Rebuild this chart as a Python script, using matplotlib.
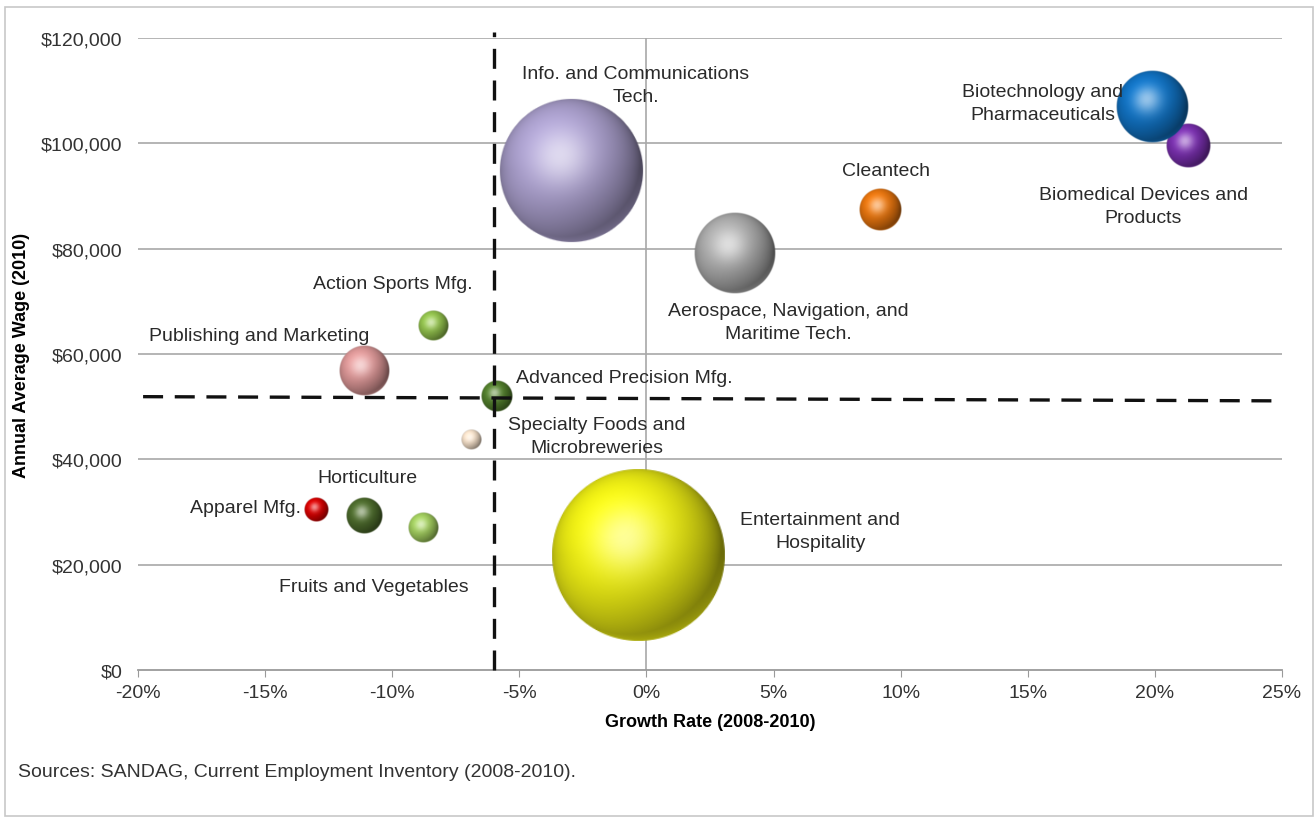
import numpy as np
import matplotlib.pyplot as plt
from matplotlib.patches import Rectangle

plt.rcParams['font.family'] = ['Liberation Sans', 'DejaVu Sans']

# ---- data ----
clusters = ["Info. and Communications\nTech.", "Entertainment and\nHospitality",
            "Aerospace, Navigation, and\nMaritime Tech.", "Cleantech",
            "Biomedical Devices and\nProducts", "Biotechnology and\nPharmaceuticals",
            "Action Sports Mfg.", "Publishing and Marketing", "Advanced Precision Mfg.",
            "Specialty Foods and\nMicrobreweries", "Apparel Mfg.", "Horticulture",
            "Fruits and Vegetables"]
growth = [-2.95, -0.35, 3.5, 9.2, 21.3, 19.9, -8.4, -11.1, -5.9, -6.9, -13.0, -11.1, -8.8]
wage = [94700, 21800, 79200, 87300, 99500, 106900, 65300, 56800, 52000, 43700, 30400, 29200, 27000]
employment = [96000, 140000, 31000, 8200, 9000, 24000, 4200, 11600, 4700, 1850, 2700, 6000, 4200]
colors = ["#ada2d0", "#f2f214", "#adadad", "#ea760e", "#7a2fb0", "#1174c6",
          "#92c24c", "#de9898", "#527f2c", "#f4dfc8", "#d80000", "#4d6c2c", "#a2ce5e"]

# label anchor points (data coords) and alignment
label_x = [-0.41, 6.83, 5.57, 9.43, 19.54, 15.6, -9.97, -15.24, -5.13, -1.94, -15.79, -10.99, -10.72]
label_y = [111100, 26400, 66100, 94900, 88100, 107700, 73300, 63600, 55600, 44400, 30800, 36600, 15900]
label_ha = ["center"] * 8 + ["left"] + ["center"] * 4

x_ticks = np.arange(-20, 26, 5)
y_ticks = np.arange(0, 120001, 20000)
cutoff_growth = -6.0
cutoff_wage = (51900, 51100)

fig = plt.figure(figsize=(13.16, 8.2), dpi=100)
fig.patches.append(Rectangle((5 / 1316, 3 / 820), 1308 / 1316, 809 / 820,
                             transform=fig.transFigure, fill=False,
                             ec="#c8c8c8", lw=1.2))
ax = fig.add_axes([138 / 1316, 149 / 820, 1144 / 1316, 632 / 820])

ax.set_xlim(-20, 25)
ax.set_ylim(0, 120000)
for s in ["top", "right", "left"]:
    ax.spines[s].set_visible(False)
ax.spines["bottom"].set_color("#9a9a9a")
ax.spines["bottom"].set_linewidth(1.3)
for yv in y_ticks[1:]:
    ax.axhline(yv, color="#a8a8a8", lw=1.2, zorder=1)
ax.axvline(0, color="#a8a8a8", lw=1.2, zorder=1)

ax.set_xticks(x_ticks)
ax.set_xticklabels(["%d%%" % v for v in x_ticks])
ax.set_yticks(y_ticks)
ax.set_yticklabels(["${:,.0f}".format(v) for v in y_ticks])
ax.tick_params(axis="x", length=5, color="#9a9a9a", labelsize=14, labelcolor="#333333", pad=5)
ax.tick_params(axis="y", length=0, labelsize=14, labelcolor="#333333", pad=11)
ax.set_xlabel("Growth Rate (2008-2010)", fontsize=13, fontweight="bold", labelpad=9)
ax.set_ylabel("Annual Average Wage (2010)", fontsize=13, fontweight="bold")
ax.yaxis.set_label_coords(-0.0944, 0.5)

# sphere shading
fig.canvas.draw()
bb = ax.get_window_extent()
px_x = bb.width / 45.0
px_y = bb.height / 120000.0

n = 160
u, v = np.meshgrid(np.linspace(-1, 1, n), np.linspace(-1, 1, n))
rr = np.sqrt(u ** 2 + v ** 2)
z = np.sqrt(np.clip(1 - rr ** 2, 0, 1))
L = np.array([-0.3, 0.4, 0.87])
L = L / np.linalg.norm(L)
H = L + np.array([0, 0, 1.0])
H = H / np.linalg.norm(H)
diff = np.clip(u * L[0] + v * L[1] + z * L[2], 0, 1)
spec = np.clip(u * H[0] + v * H[1] + z * H[2], 0, 1) ** 14
rim = np.clip(-v, 0, 1) * (1 - z) * 0.3


def sphere(x, y, r, col):
    c = np.array(plt.matplotlib.colors.to_rgb(col))
    rgb = c[None, None, :] * (0.45 + 0.62 * diff[..., None]) + rim[..., None] * c
    rgb = rgb + 0.55 * spec[..., None] * (1 - rgb)
    rgb = np.clip(rgb, 0, 1)
    alpha = np.clip((1 - rr) * r, 0, 1)
    img = np.dstack([rgb, alpha])
    dx = r / px_x
    dy = r / px_y
    ax.imshow(img, extent=[x - dx, x + dx, y - dy, y + dy], origin="lower",
              aspect="auto", interpolation="bilinear", zorder=3)


emax = max(employment)
order = [1, 0, 2, 3, 4, 5, 6, 7, 8, 9, 10, 11, 12]
for i in order:
    r = 87 * np.sqrt(employment[i] / emax)
    sphere(growth[i], wage[i], r, colors[i])

for i, name in enumerate(clusters):
    ax.text(label_x[i], label_y[i], name, ha=label_ha[i], va="center",
            fontsize=14, color="#2a2a2a", linespacing=1.45, zorder=5)

ax.plot([cutoff_growth, cutoff_growth], [0, 121200], color="#111111", lw=2.4,
        dashes=(6, 3.5), clip_on=False, zorder=4)
ax.plot([-19.8, 25], list(cutoff_wage), color="#111111", lw=2.4,
        dashes=(6, 3.5), zorder=4)

ax.set_xlim(-20, 25)
ax.set_ylim(0, 120000)

fig.text(18 / 1316, 1 - 773 / 820, "Sources: SANDAG, Current Employment Inventory (2008-2010).",
         fontsize=14, color="#333333", va="center")

fig.savefig("out.png", dpi=100)
